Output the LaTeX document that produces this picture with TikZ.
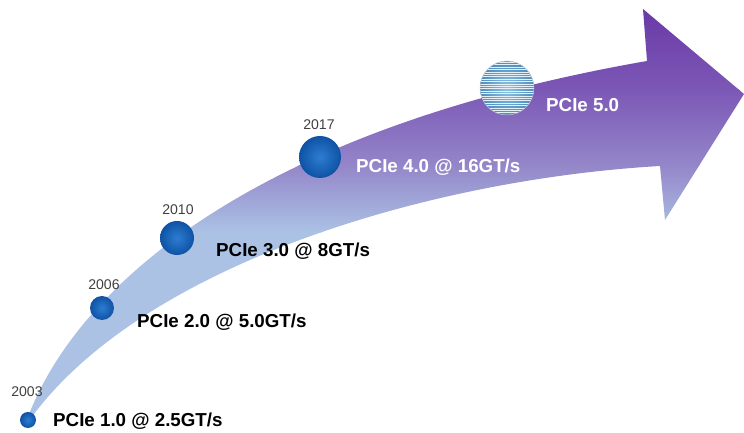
\documentclass[tikz,border=0pt]{standalone}
\usepackage{fontspec}
\setmainfont{Liberation Sans}
\definecolor{ArrPurple}{HTML}{6A39A6}
\definecolor{ArrViolet}{HTML}{7C58B6}
\definecolor{ArrLilac}{HTML}{9486C9}
\definecolor{ArrPale}{HTML}{ABC2E4}
\definecolor{DotIn}{HTML}{2C7DD2}
\definecolor{DotOut}{HTML}{0F52A4}
\definecolor{GenIn}{HTML}{8EC4E2}
\definecolor{GenOut}{HTML}{4F8CBE}

\begin{document}
\begin{tikzpicture}[x=0.03cm,y=-0.03cm,
  dot/.style={circle,inner sep=0pt,minimum size=#1,inner color=DotIn,outer color=DotOut},
  year/.style={font=\fontsize{12}{14}\selectfont,text=black!75},
  gen/.style={anchor=west,inner sep=0pt,font=\bfseries\fontsize{16}{19}\selectfont}]
  \useasboundingbox (0,0) rectangle (744,433);
  % curved roadmap arrow, purple on top fading to pale blue
  \coordinate (tail) at (24,428);
  \coordinate (notchup) at (647,61);
  \coordinate (notchlo) at (660,166);
  \begin{scope}
    \clip (tail) .. controls (70,290) and (250,130) .. (notchup)
      -- (643,9) -- (744,94) -- (665,220) -- (notchlo)
      .. controls (420,180) and (130,270) .. cycle;
    \shade[top color=ArrPurple,bottom color=ArrViolet] (0,8) rectangle (744,90.5);
    \shade[top color=ArrViolet,bottom color=ArrLilac] (0,90) rectangle (744,165.5);
    \shade[top color=ArrLilac,bottom color=ArrPale] (0,165) rectangle (744,232.5);
    \fill[ArrPale] (0,232) rectangle (744,433);
  \end{scope}
  % milestones
  \node[dot=0.48cm] (d03) at (28,420) {};
  \node[dot=0.72cm] (d06) at (102,308) {};
  \node[dot=1.02cm] (d10) at (177,238) {};
  \node[dot=1.26cm] (d17) at (320,157) {};
  \node[circle,inner sep=0pt,minimum size=1.62cm,draw=gray!45,thin,
    inner color=GenIn,outer color=GenOut,
    path picture={\foreach \k in {-27,-24.6,...,27}
      \draw[white!75!GenIn,line width=0.28pt] ([yshift=\k*0.03cm]path picture bounding box.west) -- ++(1.7cm,0);}]
    (d5) at (507,88) {};
  \node[year] (y03) at (27,392) {2003};
  \node[year] (y06) at (104,285) {2006};
  \node[year] (y10) at (178,210) {2010};
  \node[year] (y17) at (319,125) {2017};
  \node[gen] (g1) at (53,421) {PCIe 1.0 @ 2.5GT/s};
  \node[gen] (g2) at (137,322) {PCIe 2.0 @ 5.0GT/s};
  \node[gen] (g3) at (216,251) {PCIe 3.0 @ 8GT/s};
  \node[gen,text=white] (g4) at (356,167) {PCIe 4.0 @ 16GT/s};
  \node[gen,text=white] (g5) at (546,105) {PCIe 5.0};
\end{tikzpicture}
\end{document}
